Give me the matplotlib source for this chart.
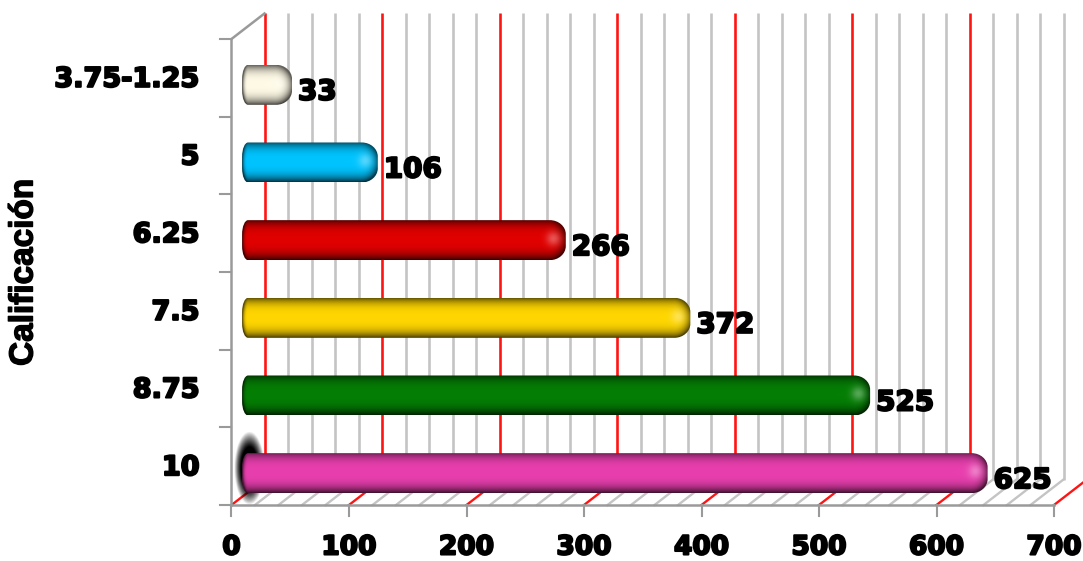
import numpy as np
import matplotlib
matplotlib.use('Agg')
import matplotlib.pyplot as plt
import matplotlib.patheffects as pe
from matplotlib.patches import PathPatch
from matplotlib.path import Path
from matplotlib.colors import to_rgb

# data, bottom row first
categories = ['10', '8.75', '7.5', '6.25', '5', '3.75-1.25']
values = [625, 525, 372, 266, 106, 33]
colors = ['#E83FAE', '#047E04', '#FFD600', '#E00000', '#00C4FF', '#FFFAE6']
x_ticks = [0, 100, 200, 300, 400, 500, 600, 700]

W, H = 1083, 561
X0, Y0 = 231.5, 505.0      # pixel position of the front corner
XS, YS = 1.175, 77.67      # pixels per data unit
DX, DY = 33 / XS, 25.5 / YS  # depth of the fake 3d box

fig = plt.figure(figsize=(W / 100, H / 100), dpi=100)
ax = fig.add_axes([0, 0, 1, 1])
ax.set_xlim(-X0 / XS, (W - X0) / XS)
ax.set_ylim(-(H - Y0) / YS, Y0 / YS)
ax.axis('off')

GRAY = '#C4C4C4'
AXIS = '#9A9A9A'
RED = '#FF1414'

# back wall and floor grid
for v in np.arange(0, 701, 20):
    major = v % 100 == 0
    c = RED if major else GRAY
    ax.plot([v + DX, v + DX], [DY, 6 + DY], color=c, lw=1.9, zorder=1, solid_capstyle='butt')
    ax.plot([v, v + DX], [0, DY], color=c, lw=1.7, zorder=1)

# front axis lines and ticks
ax.plot([0, 700], [0, 0], color=AXIS, lw=1.8, zorder=2)
ax.plot([0, 0], [0, 6], color=AXIS, lw=1.8, zorder=2)
ax.plot([0, DX], [6, 6 + DY], color=AXIS, lw=1.8, zorder=2)
for v in x_ticks:
    ax.plot([v, v], [0, -11 / YS], color=AXIS, lw=1.5, zorder=2)
for i in range(7):
    ax.plot([-11 / XS, 0], [i, i], color=AXIS, lw=1.5, zorder=2)


def bold_text(x, y, s, size, ha='center', va='center', **kw):
    ax.text(x, y, s, fontsize=size, fontweight='bold', family='DejaVu Sans', ha=ha, va=va,
            color='black', zorder=6,
            path_effects=[pe.withStroke(linewidth=1.5, foreground='black')], **kw)


def bar_image(w, h, color, r=18, rl=6):
    # shaded rgb picture of one bar, w and h in pixels
    yy, xx = np.mgrid[0:h, 0:w].astype(float)
    t = (yy + 0.5) / h * 2 - 1
    ex = np.clip((xx - (w - r)) / r, 0, 1) + np.clip((rl - xx) / rl, 0, 1)
    d = np.clip(np.sqrt(t ** 2 + ex ** 2), 0, 1)
    shade = 1 - 0.62 * d ** 3.2
    shade = shade - 0.14 * np.clip(t, 0, 1) ** 2
    rgb = np.array(to_rgb(color))[None, None, :] * shade[:, :, None]
    spot = np.exp(-((xx - (w - 13)) ** 2 + (yy - h * 0.45) ** 2) / (2 * 5.0 ** 2))[:, :, None]
    return np.clip(rgb + (1 - rgb) * spot * 0.32, 0, 1)


def capsule(x0, x1, y0, y1, rl, rr, ry):
    # outline with a flat ellipse on the left and a round end on the right
    k = 0.55
    verts = [(x0 + rl, y0), (x1 - rr, y0),
             (x1 - rr + k * rr, y0), (x1, y0 + ry - k * ry), (x1, y0 + ry),
             (x1, y1 - ry), (x1, y1 - ry + k * ry), (x1 - rr + k * rr, y1), (x1 - rr, y1),
             (x0 + rl, y1),
             (x0 + rl - k * rl, y1), (x0, y1 - ry + k * ry), (x0, y1 - ry),
             (x0, y0 + ry), (x0, y0 + ry - k * ry), (x0 + rl - k * rl, y0), (x0 + rl, y0)]
    codes = [Path.MOVETO, Path.LINETO,
             Path.CURVE4, Path.CURVE4, Path.CURVE4,
             Path.LINETO, Path.CURVE4, Path.CURVE4, Path.CURVE4,
             Path.LINETO,
             Path.CURVE4, Path.CURVE4, Path.CURVE4,
             Path.LINETO, Path.CURVE4, Path.CURVE4, Path.CURVE4]
    return Path(verts, codes)


BAR_START = 9.0
BAR_TIP = 18.5
BAR_H = 40 / YS

# black smudge behind the left end of the lowest bar
yy, xx = np.mgrid[-1:1:80j, -1:1:40j]
smudge = np.zeros((80, 40, 4))
smudge[:, :, 3] = np.clip(1.5 * (1 - xx ** 2 - yy ** 2), 0, 1)
ax.imshow(smudge, extent=[(234 - X0) / XS, (264 - X0) / XS, (Y0 - 505) / YS, (Y0 - 431) / YS],
          aspect='auto', zorder=3, interpolation='bilinear')

for i, (v, c) in enumerate(zip(values, colors)):
    yc = i + 0.41
    x1 = v + BAR_TIP
    w = int(round((x1 - BAR_START) * XS))
    img = bar_image(w, 40, c)
    im = ax.imshow(img, extent=[BAR_START, x1, yc - BAR_H / 2, yc + BAR_H / 2], aspect='auto',
                   zorder=4, interpolation='bilinear')
    clip = PathPatch(capsule(BAR_START, x1, yc - BAR_H / 2, yc + BAR_H / 2, 6 / XS, 16 / XS, 14 / YS),
                     transform=ax.transData, fc='none', ec='none')
    ax.add_patch(clip)
    im.set_clip_path(clip)
    bold_text(x1 + 6 / XS, yc - 7 / YS, str(v), 20, ha='left')

for i, lab in enumerate(categories):
    bold_text(-32 / XS, i + 0.5 - 2 / YS, lab, 19.5, ha='right')

for v in x_ticks:
    bold_text(v, -42.5 / YS, str(v), 19)

ax.text((24 - X0) / XS, (Y0 - 272) / YS, 'Calificación', rotation=90, fontsize=24, fontweight='bold',
        family='Liberation Sans', ha='center', va='center', color='black', zorder=6,
        path_effects=[pe.withStroke(linewidth=1.0, foreground='black')])

fig.savefig('out.png', dpi=100, facecolor='white')
